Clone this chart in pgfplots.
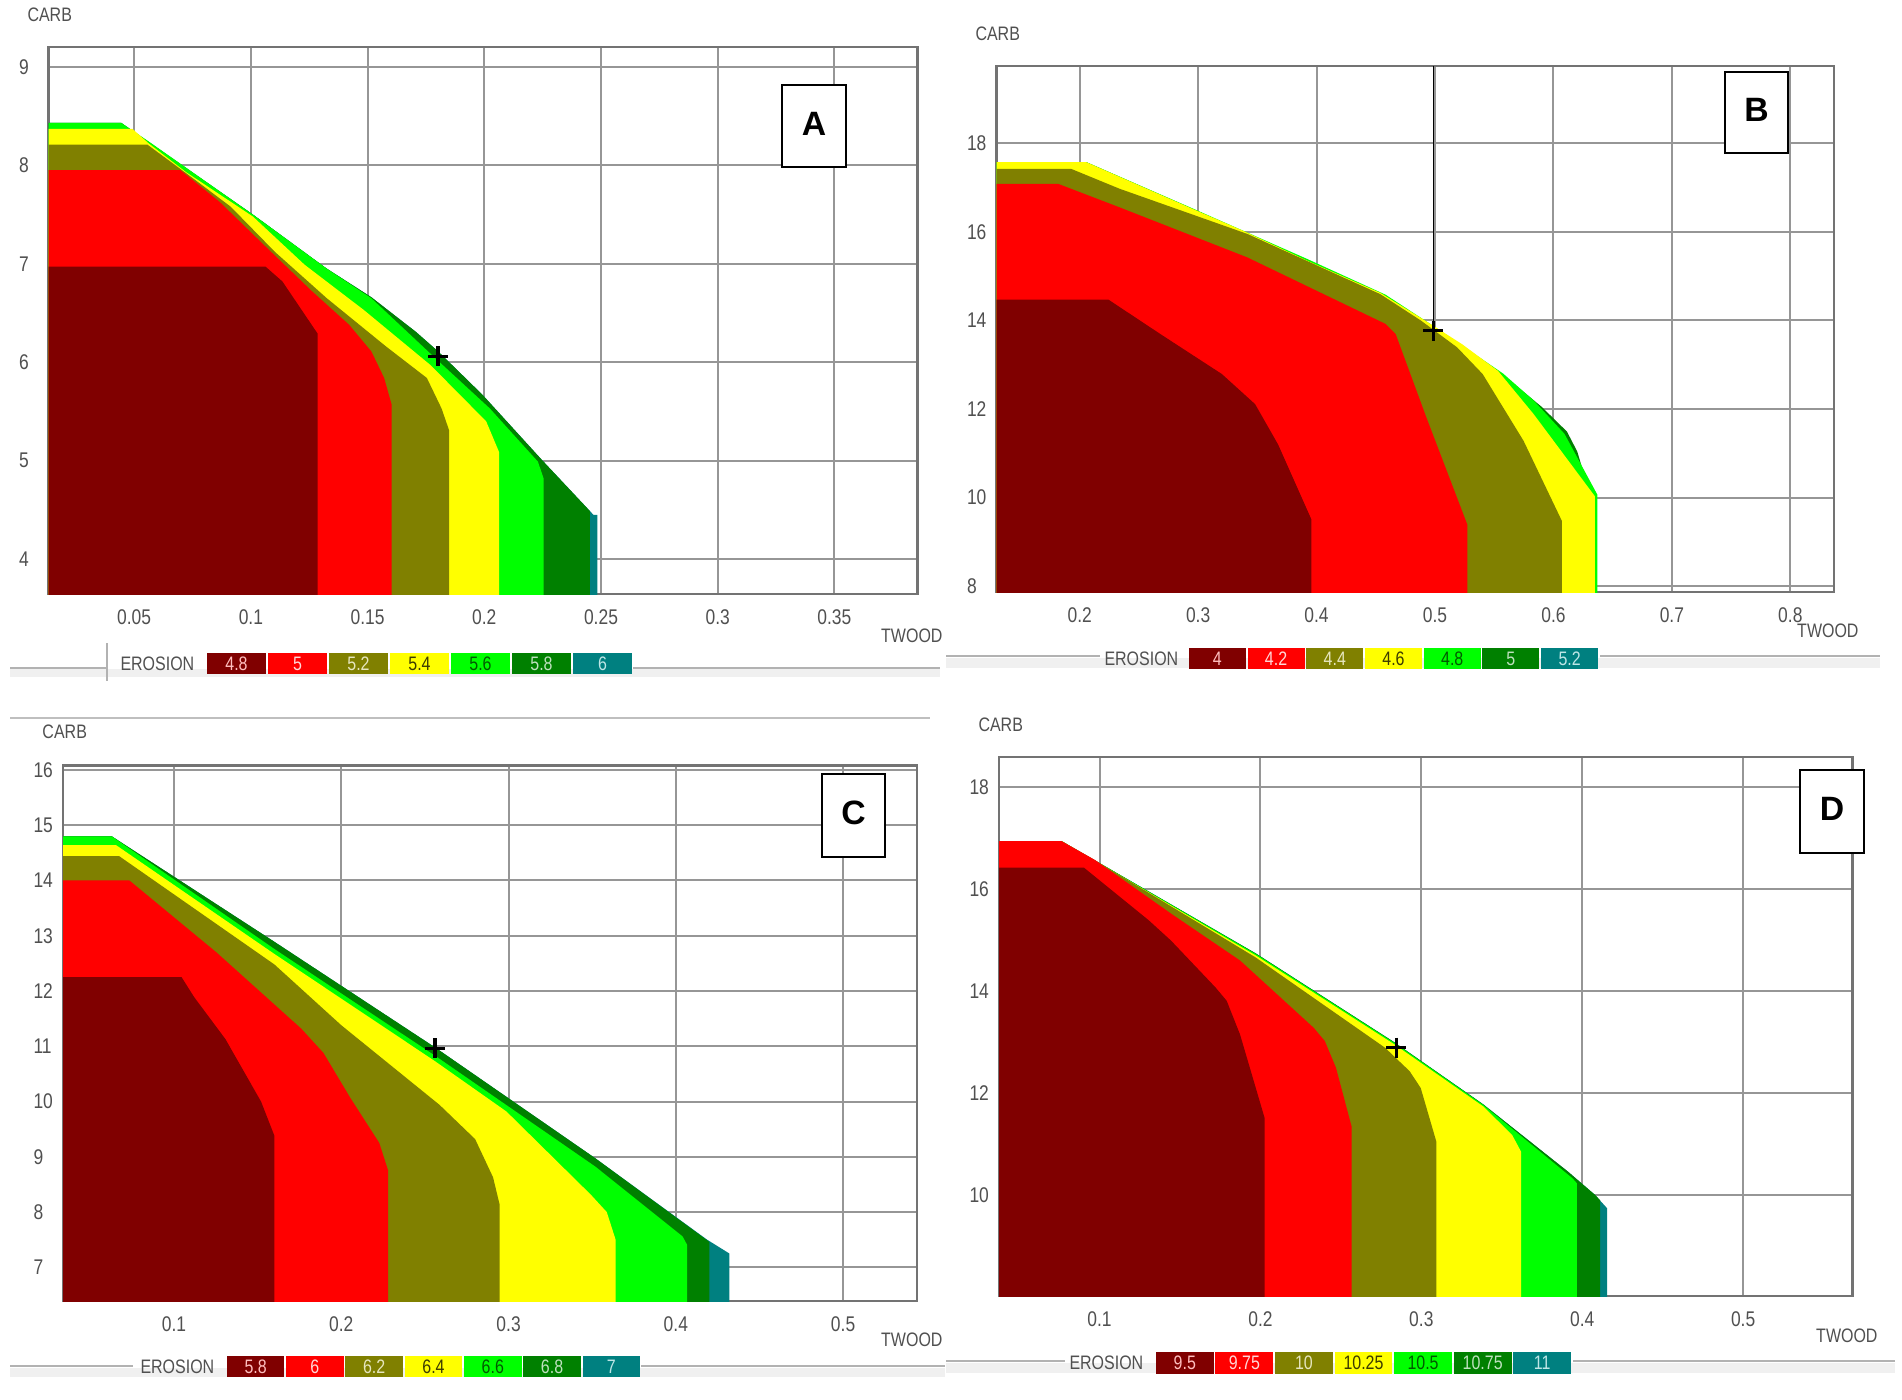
\documentclass[border=0pt]{standalone}
\usepackage{fontspec}
\setmainfont{Liberation Sans}
\newfontfamily\nar[FakeStretch=0.82]{Liberation Sans}
\usepackage{pgfplots}
\pgfplotsset{compat=1.18}

\definecolor{cDR}{RGB}{128,0,0}
\definecolor{cR}{RGB}{255,0,0}
\definecolor{cOl}{RGB}{128,128,0}
\definecolor{cY}{RGB}{255,255,0}
\definecolor{cG}{RGB}{0,255,0}
\definecolor{cDG}{RGB}{0,128,0}
\definecolor{cT}{RGB}{0,128,128}
\definecolor{tDR}{RGB}{255,190,190}
\definecolor{tR}{RGB}{255,215,215}
\definecolor{tOl}{RGB}{230,230,190}
\definecolor{tY}{RGB}{60,60,0}
\definecolor{tG}{RGB}{0,90,0}
\definecolor{tDG}{RGB}{190,225,190}
\definecolor{tT}{RGB}{190,230,230}
\definecolor{gridc}{RGB}{150,150,150}
\definecolor{txt}{RGB}{80,80,80}

\newcommand\tickfont{\nar\fontsize{8.5}{10}\selectfont}
\newcommand\labfont{\nar\fontsize{7.8}{9}\selectfont}
\newcommand\legfont{\nar\fontsize{7.8}{9}\selectfont}

\pgfplotsset{
  panel/.style={
    scale only axis, anchor=south west,
    axis line style={draw=black!55, line width=1pt},
    grid=major, grid style={gridc, line width=0.8pt},
    major tick length=0pt,
    tick label style={font=\tickfont, text=txt, inner sep=0pt},
    xticklabel style={anchor=north, yshift=-6.2pt,
      /pgf/number format/fixed, /pgf/number format/precision=2},
    yticklabel style={anchor=west, xshift=-12pt},
    scaled ticks=false,
    /pgf/number format/assume math mode=true,
  },
  reg/.style={fill=#1, draw=none, forget plot},
  cross/.style={only marks, mark=+, mark size=4pt, black, line width=1.3pt},
}

% legend strip: EROSION x, first box x, last box x, top y, bottom y, labels
\newcommand\erolegend[6]{%
  \node[anchor=west, inner sep=0pt, font=\labfont, text=txt] at (#1,{(#4+#5)/2}) {EROSION};
  \foreach \l [count=\i from 0] in {#6} {%
    \pgfmathsetmacro\xa{#2+\i*(#3-#2)/7}%
    \pgfmathsetmacro\xb{#2+(\i+1)*(#3-#2)/7}%
    \ifcase\i \def\bc{cDR}\def\tc{tDR}\or\def\bc{cR}\def\tc{tR}\or\def\bc{cOl}\def\tc{tOl}\or\def\bc{cY}\def\tc{tY}\or\def\bc{cG}\def\tc{tG}\or\def\bc{cDG}\def\tc{tDG}\else\def\bc{cT}\def\tc{tT}\fi
    \fill[\bc] (\xa+0.8,#4) rectangle (\xb-0.8,#5);
    \node[font=\legfont, text=\tc, inner sep=0pt] at ({(\xa+\xb)/2},{(#4+#5)/2}) {\l};
  }%
}

\begin{document}
\begin{tikzpicture}
\begin{scope}[x=0.4pt,y=-0.4pt]
  \fill[white] (0,0) rectangle (1902,1400);
\end{scope}

% ---------- A ----------
\begin{axis}[panel, at={(19.4pt,-237.6pt)}, width=347.6pt, height=218.8pt,
  xmin=0.0133, xmax=0.3856, ymin=3.647, ymax=9.2,
  xtick={0.05,0.1,0.15,0.2,0.25,0.3,0.35}, ytick={4,5,6,7,8,9}]
\addplot[reg=cT] coordinates {(0,3) (0,8.43) (0.0444,8.43) (0.1008,7.50) (0.1325,6.95) (0.1516,6.66) (0.1706,6.31) (0.1802,6.11) (0.1992,5.67) (0.2246,5.01) (0.2468,4.45) (0.2484,4.45) (0.2484,3)};
\addplot[reg=cDG] coordinates {(0,3) (0,8.43) (0.0444,8.43) (0.1008,7.50) (0.1325,6.95) (0.1516,6.66) (0.1706,6.31) (0.1802,6.11) (0.1992,5.67) (0.2246,5.01) (0.2452,4.49) (0.2452,3)};
\addplot[reg=cG] coordinates {(0,3) (0,8.43) (0.0444,8.43) (0.0563,8.24) (0.1008,7.50) (0.1325,6.95) (0.1516,6.65) (0.1786,6.05) (0.2024,5.53) (0.223,4.99) (0.2254,4.82) (0.2254,3)};
\addplot[reg=cY] coordinates {(0,3) (0,8.37) (0.0492,8.37) (0.0563,8.22) (0.0722,7.93) (0.1008,7.48) (0.123,6.99) (0.1484,6.53) (0.177,5.97) (0.2008,5.40) (0.2063,5.09) (0.2063,3)};
\addplot[reg=cOl] coordinates {(0,3) (0,8.21) (0.0556,8.21) (0.0722,7.92) (0.0913,7.58) (0.1103,7.12) (0.1325,6.65) (0.1579,6.16) (0.1754,5.84) (0.1817,5.53) (0.1849,5.31) (0.1849,3)};
\addplot[reg=cR] coordinates {(0,3) (0,7.95) (0.0698,7.95) (0.0865,7.63) (0.1056,7.19) (0.1262,6.72) (0.1421,6.38) (0.1516,6.11) (0.1571,5.84) (0.1603,5.57) (0.1603,3)};
\addplot[reg=cDR] coordinates {(0,3) (0,6.97) (0.1063,6.97) (0.1135,6.82) (0.1286,6.29) (0.1286,3)};
\addplot[cross] coordinates {(0.1802,6.06)};
\end{axis}

% ---------- B ----------
\begin{axis}[panel, at={(398.6pt,-236.8pt)}, width=335pt, height=210.4pt,
  xmin=0.1298, xmax=0.8369, ymin=7.87, ymax=19.74,
  xtick={0.2,0.3,0.4,0.5,0.6,0.7,0.8}, ytick={8,10,12,14,16,18}]
\addplot[reg=cDG] coordinates {(0,7) (0,17.57) (0.2056,17.57) (0.2984,16.48) (0.3934,15.34) (0.4582,14.55) (0.4971,13.86) (0.5575,12.77) (0.59,12.05) (0.6114,11.49) (0.6201,11.04) (0.625,10.6) (0.63,10.0) (0.63,7)};
\addplot[reg=cG] coordinates {(0,7) (0,17.57) (0.2056,17.57) (0.2984,16.49) (0.3934,15.37) (0.4582,14.58) (0.4971,13.90) (0.5575,12.80) (0.5834,12.19) (0.6093,11.44) (0.637,10.07) (0.637,7)};
\addplot[reg=cY] coordinates {(0,7) (0,17.57) (0.2056,17.57) (0.2984,16.48) (0.3373,16.03) (0.3934,15.33) (0.4539,14.62) (0.4884,14.05) (0.523,13.46) (0.5532,12.86) (0.5834,11.88) (0.635,10.03) (0.635,7)};
\addplot[reg=cOl] coordinates {(0,7) (0,17.42) (0.1927,17.42) (0.2337,16.97) (0.3416,15.95) (0.4539,14.59) (0.4884,13.99) (0.5187,13.39) (0.5402,12.79) (0.5748,11.28) (0.6072,9.47) (0.6072,7)};
\addplot[reg=cR] coordinates {(0,7) (0,17.08) (0.1819,17.08) (0.2337,16.55) (0.3416,15.42) (0.4582,13.92) (0.4668,13.69) (0.4927,11.81) (0.5273,9.39) (0.5273,7)};
\addplot[reg=cDR] coordinates {(0,7) (0,14.47) (0.2242,14.47) (0.2682,13.69) (0.32,12.79) (0.3481,12.11) (0.3675,11.2) (0.3956,9.51) (0.3956,7)};
\addplot[black, line width=0.5pt, forget plot] coordinates {(0.4985,13.77) (0.4985,19.74)};
\addplot[cross] coordinates {(0.4985,13.77)};
\end{axis}

% ---------- C ----------
\begin{axis}[panel, at={(25.2pt,-520.4pt)}, width=341.6pt, height=214.2pt,
  xmin=0.0336, xmax=0.5442, ymin=6.39, ymax=16.08,
  xtick={0.1,0.2,0.3,0.4,0.5}, ytick={7,8,9,10,11,12,13,14,15,16}]
\addplot[reg=cT] coordinates {(0,6) (0,14.80) (0.0627,14.80) (0.16,12.89) (0.256,10.98) (0.352,8.97) (0.4187,7.50) (0.432,7.25) (0.432,6)};
\addplot[reg=cDG] coordinates {(0,6) (0,14.80) (0.0627,14.80) (0.16,12.89) (0.256,10.98) (0.352,8.97) (0.42,7.46) (0.42,6)};
\addplot[reg=cG] coordinates {(0,6) (0,14.80) (0.0627,14.80) (0.16,12.76) (0.256,10.83) (0.352,8.82) (0.404,7.56) (0.4067,7.41) (0.4067,6)};
\addplot[reg=cY] coordinates {(0,6) (0,14.64) (0.0653,14.64) (0.16,12.67) (0.256,10.73) (0.2987,9.82) (0.3493,8.31) (0.3587,8.0) (0.364,7.5) (0.364,6)};
\addplot[reg=cOl] coordinates {(0,6) (0,14.44) (0.0672,14.44) (0.16,12.48) (0.2,11.38) (0.2587,9.94) (0.28,9.32) (0.2907,8.63) (0.2947,8.13) (0.2947,6)};
\addplot[reg=cR] coordinates {(0,6) (0,14.0) (0.0733,14.0) (0.1253,12.70) (0.176,11.32) (0.1893,10.88) (0.2053,10.07) (0.2227,9.25) (0.228,8.75) (0.228,6)};
\addplot[reg=cDR] coordinates {(0,6) (0,12.25) (0.1045,12.25) (0.112,11.89) (0.1307,11.13) (0.152,10.0) (0.16,9.38) (0.16,6)};
\addplot[cross] coordinates {(0.256,10.96)};
\end{axis}

% ---------- D ----------
\begin{axis}[panel, at={(399.6pt,-518.4pt)}, width=341.4pt, height=215.6pt,
  xmin=0.0375, xmax=0.568, ymin=8.02, ymax=18.59,
  xtick={0.1,0.2,0.3,0.4,0.5}, ytick={10,12,14,16,18}]
\addplot[reg=cT] coordinates {(0,7) (0,16.94) (0.0764,16.94) (0.197,14.74) (0.283,13.0) (0.3384,11.78) (0.3911,10.46) (0.4077,10.01) (0.4155,9.74) (0.4155,7)};
\addplot[reg=cDG] coordinates {(0,7) (0,16.94) (0.0764,16.94) (0.197,14.74) (0.283,13.0) (0.3384,11.78) (0.3911,10.46) (0.4077,10.01) (0.4111,9.9) (0.4111,7)};
\addplot[reg=cG] coordinates {(0,7) (0,16.94) (0.0764,16.94) (0.197,14.73) (0.283,12.99) (0.3384,11.77) (0.3939,10.33) (0.3967,10.23) (0.3967,7)};
\addplot[reg=cY] coordinates {(0,7) (0,16.94) (0.0764,16.94) (0.197,14.70) (0.283,12.96) (0.3384,11.74) (0.3564,11.18) (0.362,10.85) (0.362,7)};
\addplot[reg=cOl] coordinates {(0,7) (0,16.94) (0.0764,16.94) (0.1,16.51) (0.197,14.66) (0.2774,12.89) (0.2927,12.43) (0.2996,12.10) (0.3093,11.05) (0.3093,7)};
\addplot[reg=cR] coordinates {(0,7) (0,16.94) (0.0764,16.94) (0.0972,16.57) (0.1444,15.52) (0.1873,14.60) (0.2331,13.28) (0.24,13.02) (0.2469,12.50) (0.2566,11.35) (0.2566,7)};
\addplot[reg=cDR] coordinates {(0,7) (0,16.42) (0.0903,16.42) (0.1305,15.39) (0.1444,14.99) (0.1721,14.07) (0.179,13.81) (0.1873,13.15) (0.2026,11.51) (0.2026,7)};
\addplot[cross] coordinates {(0.2844,12.89)};
\end{axis}

\begin{scope}[x=0.4pt,y=-0.4pt]
  % axis names
  \node[anchor=west, inner sep=0pt, font=\labfont, text=txt] at (27,15.2) {CARB};
  \node[anchor=west, inner sep=0pt, font=\labfont, text=txt] at (975,33.7) {CARB};
  \node[anchor=west, inner sep=0pt, font=\labfont, text=txt] at (42,732) {CARB};
  \node[anchor=west, inner sep=0pt, font=\labfont, text=txt] at (978,724.5) {CARB};
  \node[anchor=east, inner sep=0pt, font=\labfont, text=txt] at (943,636) {TWOOD};
  \node[anchor=east, inner sep=0pt, font=\labfont, text=txt] at (1859,630.6) {TWOOD};
  \node[anchor=east, inner sep=0pt, font=\labfont, text=txt] at (943,1340) {TWOOD};
  \node[anchor=east, inner sep=0pt, font=\labfont, text=txt] at (1878,1336) {TWOOD};

  % window strips under the plots
  \fill[black!6] (10,669) rectangle (940,677);
  \draw[black!30, line width=0.8pt] (10,668) -- (107,668) (633,668) -- (940,668);
  \draw[black!30, line width=0.8pt] (107,643) -- (107,681);
  \fill[black!6] (946,658) rectangle (1880,668);
  \draw[black!30, line width=0.8pt] (946,656) -- (1100,656) (1600,656) -- (1880,656);
  \draw[black!25, line width=0.8pt] (10,718) -- (930,718);
  \fill[black!6] (10,1368) rectangle (945,1377);
  \draw[black!30, line width=0.8pt] (10,1366) -- (133,1366) (641,1366) -- (945,1366);
  \fill[black!6] (946,1363) rectangle (1895,1373);
  \draw[black!30, line width=0.8pt] (946,1361) -- (1065,1361) (1573,1361) -- (1895,1361);

  \erolegend{120}{206}{633}{653}{674}{4.8,5,5.2,5.4,5.6,5.8,6}
  \erolegend{1104}{1188}{1599}{648}{669}{4,4.2,4.4,4.6,4.8,5,5.2}
  \erolegend{140}{226}{641}{1356}{1377}{5.8,6,6.2,6.4,6.6,6.8,7}
  \erolegend{1069}{1155}{1572}{1352}{1374}{9.5,9.75,10,10.25,10.5,10.75,11}

  % panel letters
  \draw[black, line width=0.8pt, fill=white] (782,85) rectangle (846,167);
  \node[font=\bfseries\fontsize{13.5}{15}\selectfont] at (814,124) {A};
  \draw[black, line width=0.8pt, fill=white] (1725,72) rectangle (1788,153);
  \node[font=\bfseries\fontsize{13.5}{15}\selectfont] at (1756.5,110) {B};
  \draw[black, line width=0.8pt, fill=white] (822,774) rectangle (885,857);
  \node[font=\bfseries\fontsize{13.5}{15}\selectfont] at (853.5,813) {C};
  \draw[black, line width=0.8pt, fill=white] (1800,770) rectangle (1864,853);
  \node[font=\bfseries\fontsize{13.5}{15}\selectfont] at (1832,809) {D};
\end{scope}
\end{tikzpicture}
\end{document}
